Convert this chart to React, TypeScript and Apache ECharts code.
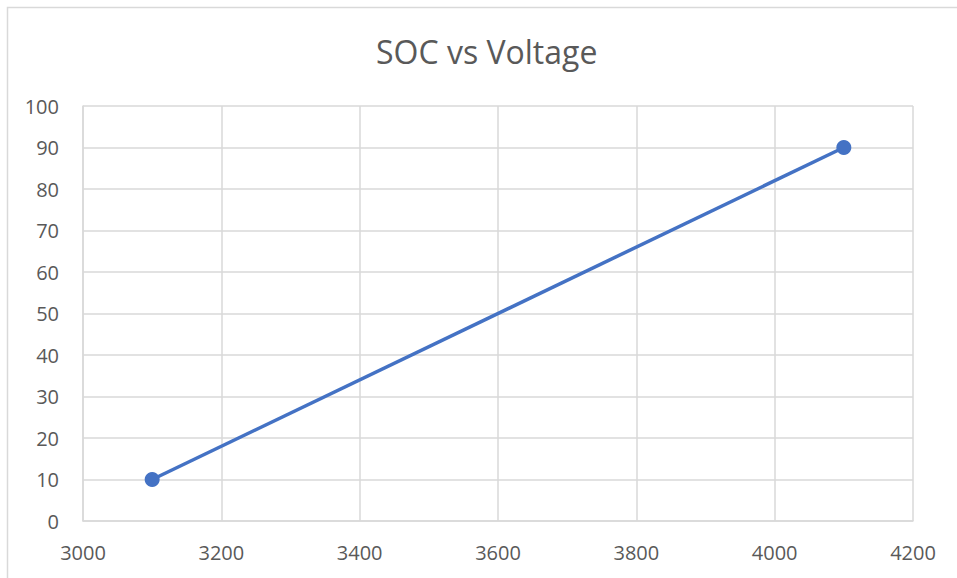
import React, { useEffect, useRef } from "react";
import * as echarts from "echarts";

const voltage = [3100, 4100];
const soc = [10, 90];
const title = "SOC vs Voltage";

export default function App() {
  const ref = useRef<HTMLDivElement>(null);
  useEffect(() => {
    const chart = echarts.init(ref.current!, null, { renderer: "svg" });
    const font = "'Open Sans', 'Noto Sans', sans-serif";
    chart.setOption({
      animation: false,
      backgroundColor: "#ffffff",
      title: {
        text: title,
        left: 371,
        top: 30,
        textStyle: { color: "#595959", fontSize: 32, fontWeight: "normal", fontFamily: font },
      },
      graphic: [
        {
          type: "rect",
          shape: { x: 7.5, y: 7.5, width: 1000, height: 1000 },
          style: { fill: "none", stroke: "#d9d9d9", lineWidth: 1.5 },
          silent: true,
        },
      ],
      grid: { left: 83, right: 44, top: 106, bottom: 57, containLabel: false },
      xAxis: {
        type: "value",
        min: 3000,
        max: 4200,
        interval: 200,
        axisLine: { show: true, lineStyle: { color: "#d9d9d9", width: 1.5 } },
        axisTick: { show: false },
        splitLine: { show: true, lineStyle: { color: "#d9d9d9", width: 1.5 } },
        axisLabel: {
          color: "#595959",
          fontSize: 20,
          fontFamily: font,
          margin: 21,
          formatter: (v: number) => String(v),
        },
      },
      yAxis: {
        type: "value",
        min: 0,
        max: 100,
        interval: 10,
        axisLine: { show: true, lineStyle: { color: "#d9d9d9", width: 1.5 } },
        axisTick: { show: false },
        splitLine: { show: true, lineStyle: { color: "#d9d9d9", width: 1.5 } },
        axisLabel: { color: "#595959", fontSize: 20, fontFamily: font, margin: 24 },
      },
      series: [
        {
          type: "line",
          data: voltage.map((v, i) => [v, soc[i]]),
          symbol: "circle",
          symbolSize: 15,
          lineStyle: { color: "#4472C4", width: 3.5 },
          itemStyle: { color: "#4472C4" },
        },
      ],
    });
    return () => chart.dispose();
  }, []);
  return (
    <div
      ref={ref}
      style={{ position: "fixed", left: 0, top: 0, width: 957, height: 578 }}
    />
  );
}
